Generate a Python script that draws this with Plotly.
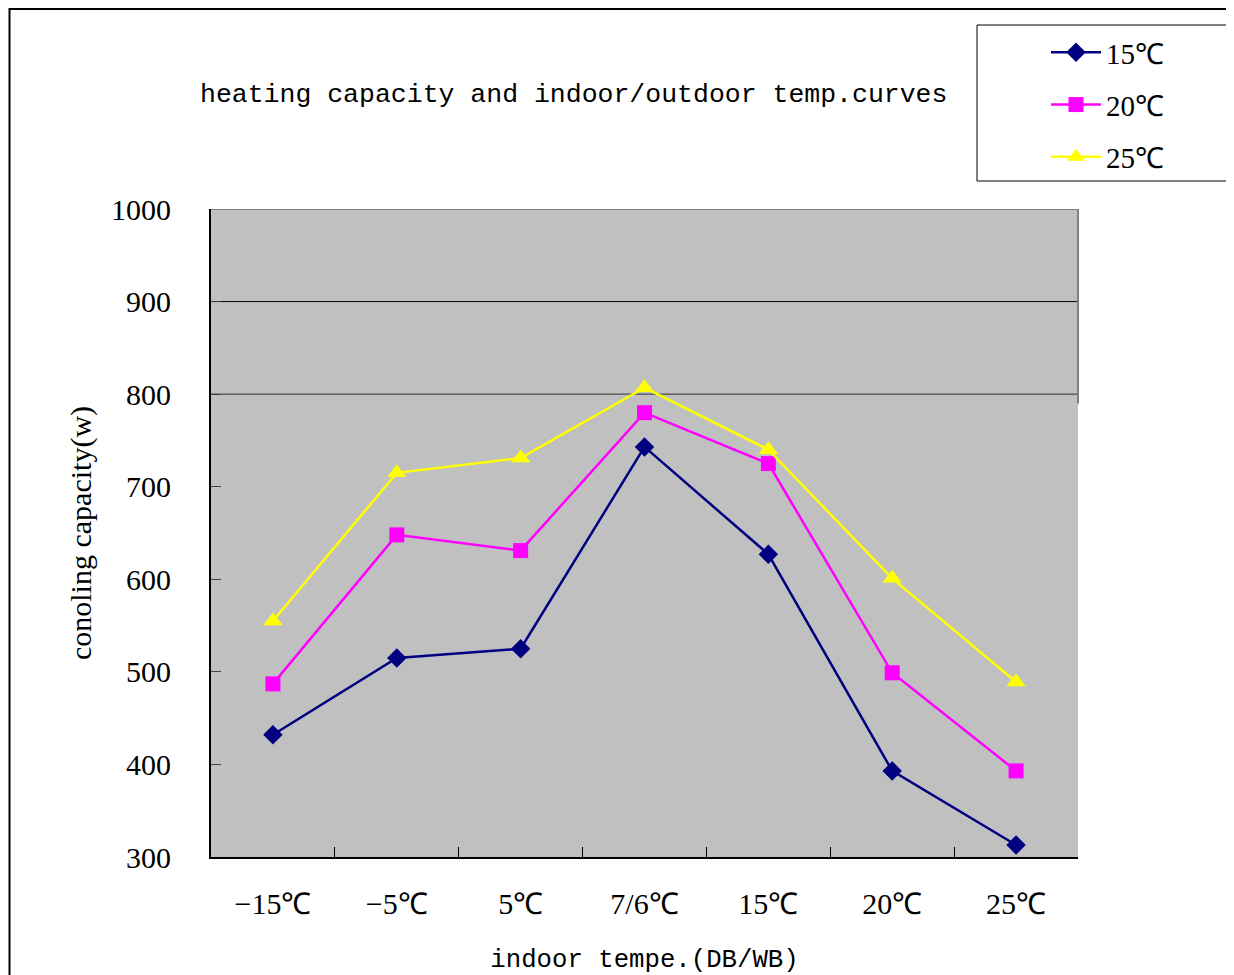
import plotly.graph_objects as go

categories = ["−15℃", "−5℃", "5℃", "7/6℃", "15℃", "20℃", "25℃"]
s15 = [432, 515, 525, 743, 627, 393, 313]
s20 = [487, 648, 631, 780, 725, 499, 393]
s25 = [555, 715, 731, 807, 740, 601, 489]
series_names = ["15℃", "20℃", "25℃"]
colors = ["#000080", "#FF00FF", "#FFFF00"]
symbols = ["diamond", "square", "triangle-up"]
msizes = [15, 15, 17]

SERIF = "Liberation Serif, Times New Roman, serif"
MONO = "Liberation Mono, Courier New, monospace"

fig = go.Figure()
for i, (name, vals) in enumerate(zip(series_names, [s15, s20, s25])):
    fig.add_trace(go.Scatter(
        x=categories, y=vals, name=name, mode="lines+markers",
        line=dict(color=colors[i], width=2.5),
        marker=dict(symbol=symbols[i], size=msizes[i], color=colors[i]),
        legendgroup=name,
    ))

# page has an 8px body offset; design in screen pixels, convert
OFF = 8
W, H = 1234, 975
L, R, T, B = 211 - OFF, 1234 - (1078 - OFF), 209 - OFF, 975 - (857 - OFF)
pw, ph = W - L - R, H - T - B

def px(x):
    return (x - OFF - L) / pw

def py(y):
    return (H - B - (y - OFF)) / ph

shapes = [
    # outer chart border
    dict(type="rect", xref="paper", yref="paper", x0=px(9.5), y0=py(990), x1=px(1250), y1=py(9),
         line=dict(color="black", width=2), layer="below"),
    # legend box
    dict(type="rect", xref="paper", yref="paper", x0=px(977), y0=py(181), x1=px(1250), y1=py(25),
         line=dict(color="black", width=1)),
    # gridlines
    dict(type="line", xref="paper", yref="y", x0=0, x1=1, y0=900, y1=900,
         line=dict(color="black", width=1), layer="below"),
    dict(type="line", xref="paper", yref="y", x0=0, x1=1, y0=800, y1=800,
         line=dict(color="#303030", width=1), layer="below"),
    # top border (grey)
    dict(type="line", xref="paper", yref="y", x0=0, x1=1, y0=1000, y1=1000,
         line=dict(color="#808080", width=2), layer="below"),
    # partial right border (grey)
    dict(type="line", xref="paper", yref="y", x0=1, x1=1, y0=1000, y1=790,
         line=dict(color="#808080", width=2), layer="below"),
]

fig.update_layout(
    width=W, height=H,
    margin=dict(l=L, r=R, t=T, b=B),
    paper_bgcolor="white",
    plot_bgcolor="#C0C0C0",
    showlegend=True,
    legend=dict(
        x=px(1046), y=py(27), xanchor="left", yanchor="top",
        font=dict(family=SERIF, size=29, color="black"),
        bgcolor="rgba(0,0,0,0)", borderwidth=0,
        traceorder="grouped", tracegroupgap=11.5,
        itemwidth=50,
    ),
    shapes=shapes,
    annotations=[
        dict(text="heating capacity and indoor/outdoor temp.curves", xref="paper", yref="paper",
             x=px(573), y=py(95), showarrow=False, xanchor="center", yanchor="middle",
             font=dict(family=MONO, size=26.5, color="black")),
    ],
    xaxis=dict(
        type="category",
        showgrid=False, zeroline=False,
        showline=True, linecolor="black", linewidth=2, mirror=False,
        ticks="inside", tickson="boundaries", ticklen=10, tickcolor="black", tickwidth=1,
        tickfont=dict(family=SERIF, size=30, color="black"),
        ticklabelstandoff=19,
        title=dict(text="indoor tempe.(DB/WB)", font=dict(family=MONO, size=25.7, color="black"), standoff=30),
        range=[-0.5, 6.5],
    ),
    yaxis=dict(
        range=[300, 1000],
        tickvals=[300, 400, 500, 600, 700, 800, 900, 1000],
        showgrid=False, zeroline=False,
        showline=True, linecolor="black", linewidth=2,
        ticks="inside", ticklen=10, tickcolor="#404040", tickwidth=1,
        tickfont=dict(family=SERIF, size=30, color="black"),
        ticklabelstandoff=32,
        title=dict(text="conoling capacity(w)", font=dict(family=SERIF, size=30, color="black"), standoff=11),
    ),
)

fig.write_html("out.html")
